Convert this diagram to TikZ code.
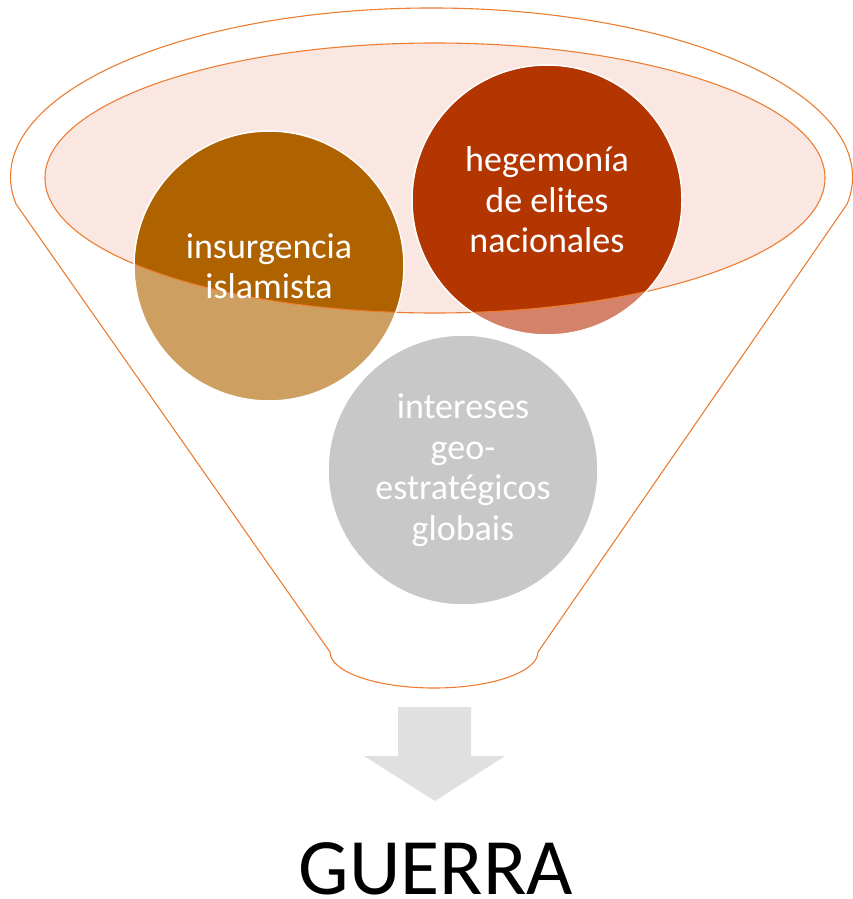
\documentclass[tikz,border=0pt]{standalone}
\usepackage{fontspec}
\setmainfont{Carlito}
\definecolor{funnelorange}{HTML}{ED7D31}
\definecolor{pinkfill}{HTML}{FBE7E2}
\definecolor{browndark}{HTML}{AE6300}
\definecolor{brownlight}{HTML}{CDA062}
\definecolor{reddark}{HTML}{B33500}
\definecolor{redlight}{HTML}{D4826A}
\definecolor{graycirc}{HTML}{C8C8C8}
\definecolor{arrowgray}{HTML}{E0E0E0}
\begin{document}
\begin{tikzpicture}[x=1pt,y={(0,-1pt)},
  funnelline/.style={draw=funnelorange,line width=1.1pt},
  bubble/.style={circle,minimum size=270pt,inner sep=0pt,draw=white,line width=1.5pt,
    text=white,align=center,font=\fontsize{36}{40.5}\selectfont},
  bigword/.style={font=\fontsize{80}{90}\selectfont,text=black,inner sep=0pt}]
\useasboundingbox (0,0) rectangle (852,899);
% funnel outline
\path[funnelline,fill=white] (16,204) arc[start angle=170.8,end angle=369.2,x radius=421,y radius=169]
  -- (538,652) arc[start angle=0,end angle=180,x radius=104,y radius=36] -- cycle;
% inner ellipse fill
\fill[pinkfill] (435,178) ellipse[x radius=390,y radius=135];
% circles light
\fill[brownlight] (269,266) circle[radius=135];
\fill[redlight] (547,200) circle[radius=135];
\fill[graycirc] (463,470) circle[radius=135];
% dark parts inside ellipse
\begin{scope}
  \clip (435,178) ellipse[x radius=390,y radius=135];
  \fill[browndark] (269,266) circle[radius=135];
  \fill[reddark] (547,200) circle[radius=135];
\end{scope}
% ellipse border
\draw[funnelline] (435,178) ellipse[x radius=390,y radius=135];
% circle nodes with text
\node[bubble] (ins) at (269,266) {insurgencia\\islamista};
\node[bubble] (heg) at (547,200) {hegemonía\\de elites\\nacionales};
\node[bubble] (int) at (463,470) {intereses\\geo-\\estratégicos\\globais};
% arrow
\fill[arrowgray] (398,707) -- (471,707) -- (471,756) -- (505,756) -- (435,801) -- (364,756) -- (398,756) -- cycle;
\node[bigword,anchor=base] (guerra) at (436,894) {GUERRA};
\end{tikzpicture}
\end{document}
